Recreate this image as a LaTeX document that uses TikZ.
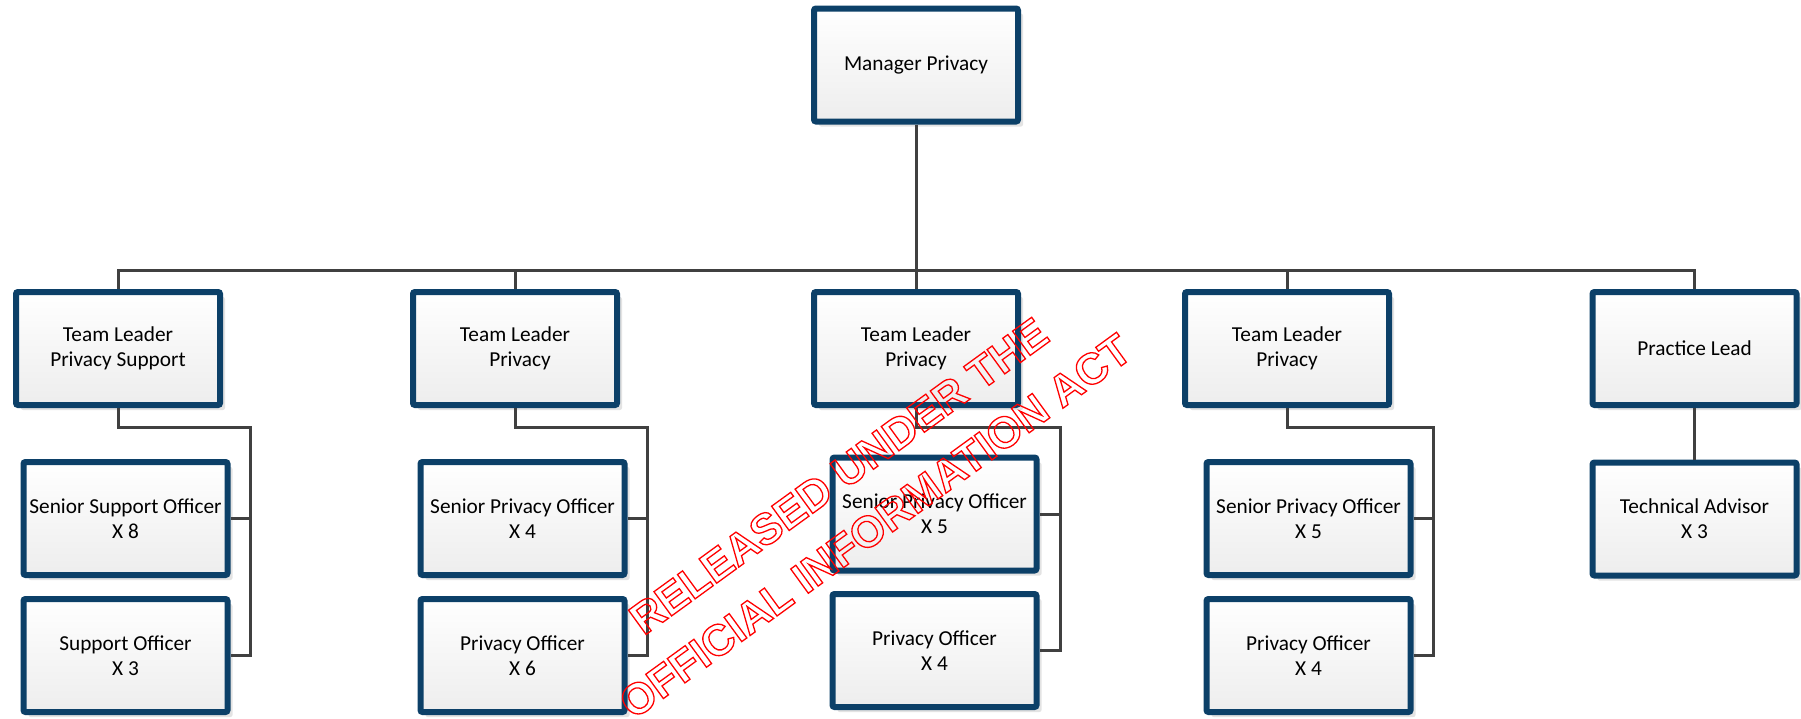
\documentclass[tikz,border=0pt]{standalone}
\usepackage{fontspec}
\setmainfont{Carlito}
\newfontfamily\wmfont{Liberation Sans}
\usetikzlibrary{shadows,calc}
\definecolor{boxblue}{HTML}{0C4068}
\definecolor{conncol}{HTML}{404040}
\tikzset{
  orgbox/.style={draw=boxblue, line width=6pt, rounded corners=2pt,
    top color=white, bottom color=black!7,
    minimum width=204pt, minimum height=113pt, inner sep=0pt, align=center,
    font=\fontsize{21.3}{25}\selectfont, text=black,
    drop shadow={shadow xshift=5pt, shadow yshift=-5pt, fill=black!11, opacity=1}},
  conn/.style={draw=conncol, line width=3pt},
}
\begin{document}
\begin{tikzpicture}[x=1pt,y=-1pt]
\useasboundingbox (0,0) rectangle (1801,718);
% boxes
\node[orgbox] (mp) at (916,65) {Manager Privacy};
\node[orgbox] (tl1) at (118,348.5) {Team Leader\\Privacy Support};
\node[orgbox] (tl2) at (515,348.5) {Team Leader\\\hspace*{10pt}Privacy};
\node[orgbox] (tl3) at (916,348.5) {Team Leader\\Privacy};
\node[orgbox] (tl4) at (1287,348.5) {Team Leader\\Privacy};
\node[orgbox] (pl) at (1694.5,348.5) {Practice Lead};
\node[orgbox] (sso) at (125.5,518.5) {Senior Support Officer\\X 8};
\node[orgbox] (so) at (125.5,655.5) {Support Officer\\X 3};
\node[orgbox] (spo2) at (522.5,518.5) {Senior Privacy Officer\\X 4};
\node[orgbox] (po2) at (522.5,655.5) {Privacy Officer\\X 6};
\node[orgbox] (spo3) at (934.5,514) {Senior Privacy Officer\\X 5};
\node[orgbox] (po3) at (934.5,650.5) {Privacy Officer\\X 4};
\node[orgbox] (spo4) at (1308.5,518.5) {Senior Privacy Officer\\X 5};
\node[orgbox] (po4) at (1308.5,655.5) {Privacy Officer\\X 4};
\node[orgbox] (ta) at (1694.5,519) {Technical Advisor\\X 3};
% connector helper coordinates
\coordinate (bus) at (0,270);
\coordinate (e1) at (250,427);
\coordinate (e2) at (647,427);
\coordinate (e3) at (1060,427);
\coordinate (e4) at (1433,427);
% top level
\draw[conn] (mp.south) -- (mp.south |- bus);
\draw[conn] (tl1.north) -- (tl1.north |- bus) -- (pl.north |- bus) -- (pl.north);
\draw[conn] (tl2.north) -- (tl2.north |- bus);
\draw[conn] (tl3.north) -- (tl3.north |- bus);
\draw[conn] (tl4.north) -- (tl4.north |- bus);
% groups
\draw[conn] (tl1.south) |- (e1) |- (so.east);
\draw[conn] (sso.east) -- (sso.east -| e1);
\draw[conn] (tl2.south) |- (e2) |- (po2.east);
\draw[conn] (spo2.east) -- (spo2.east -| e2);
\draw[conn] (tl3.south) |- (e3) |- (po3.east);
\draw[conn] (spo3.east) -- (spo3.east -| e3);
\draw[conn] (tl4.south) |- (e4) |- (po4.east);
\draw[conn] (spo4.east) -- (spo4.east -| e4);
\draw[conn] (pl.south) -- (ta.north);
% watermark
\node[rotate=36, align=center, text=red, inner sep=0pt,
  font=\wmfont\bfseries\fontsize{43.6}{62}\selectfont] (wm) at (857,501)
  {\special{pdf:literal 1 Tr 1.3 w}RELEASED UNDER THE\\OFFICIAL INFORMATION ACT\special{pdf:literal 0 Tr}};
\end{tikzpicture}
\end{document}
